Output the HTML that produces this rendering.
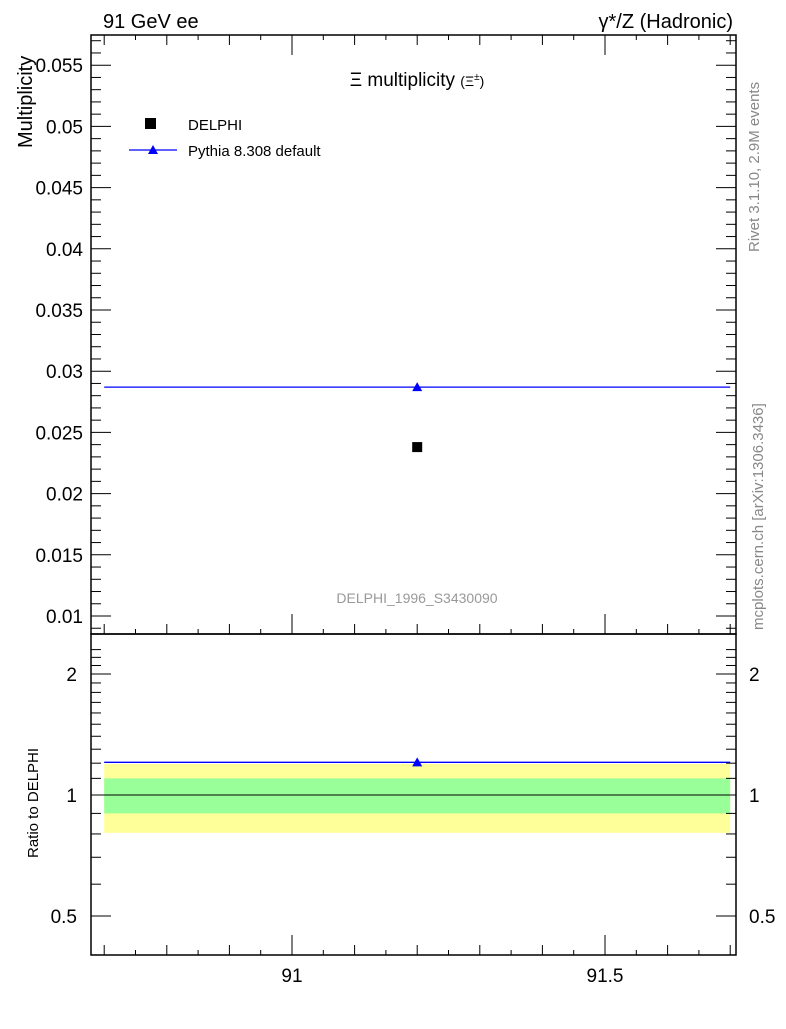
<!DOCTYPE html>
<html><head><meta charset="utf-8"><style>
body{margin:0;background:#fff;font-family:"Liberation Sans",sans-serif}
</style></head><body>
<svg id="c" width="786" height="1024" xmlns="http://www.w3.org/2000/svg" font-family="Liberation Sans, sans-serif">
<text x="103" y="28" font-size="20">91 GeV ee</text>
<text x="733" y="28" font-size="20" text-anchor="end">γ*/Z (Hadronic)</text>
<text x="417" y="86" font-size="19" text-anchor="middle">Ξ multiplicity <tspan font-size="14">(Ξ<tspan dy="-6" font-size="10">±</tspan><tspan dy="6">)</tspan></tspan></text>
<text transform="translate(32,148) rotate(-90)" font-size="20">Multiplicity</text>
<text transform="translate(38,858) rotate(-90)" font-size="15">Ratio to DELPHI</text>
<text transform="translate(759,252) rotate(-90)" font-size="15" fill="#888">Rivet 3.1.10,  2.9M events</text>
<text transform="translate(763,630) rotate(-90)" font-size="15" fill="#888">mcplots.cern.ch [arXiv:1306.3436]</text>
<text x="417" y="603" font-size="14" fill="#999" text-anchor="middle">DELPHI_1996_S3430090</text>
<g id="g"></g>
<rect x="145" y="118" width="11" height="11" fill="#000"/>
<text x="188" y="130" font-size="15">DELPHI</text>
<line x1="129" y1="150" x2="177" y2="150" stroke="#00f" stroke-width="1.3"/>
<polygon points="153,145 158,154 148,154" fill="#00f"/>
<text x="188" y="156" font-size="15">Pythia 8.308 default</text>
</svg>
<script>
const xBins=[[90.7,91.7]];
const xCenters=[91.2];
const dataVals=[0.0238];
const mcVals=[0.0287];
const dataErrInner=[0.1];
const dataErrOuter=[0.195];
const yTicks=[0.01,0.015,0.02,0.025,0.03,0.035,0.04,0.045,0.05,0.055];
const yTickLabels=["0.01","0.015","0.02","0.025","0.03","0.035","0.04","0.045","0.05","0.055"];
const xTicks=[91,91.5];
const xTickLabels=["91","91.5"];
const rTicks=[0.5,1,2];
const rTickLabels=["0.5","1","2"];
const L=91,R=736,T=35,M=634,B=955;
const X=v=>292+(v-91)*626;
const Y=v=>616-(v-0.01)/0.005*61.2;
const RY=v=>795-Math.log2(v)*121;
const g=document.getElementById('g');const NS='http://www.w3.org/2000/svg';
function el(t,a,n){const e=document.createElementNS(NS,t);for(const k in a)e.setAttribute(k,a[k]);


g.appendChild(e);return e;}
// ratio bands
xBins.forEach((b,i)=>{
 el('rect',{x:X(b[0]),y:RY(1+dataErrOuter[i]),width:X(b[1])-X(b[0]),height:RY(1-dataErrOuter[i])-RY(1+dataErrOuter[i]),fill:'#ffff99'},'ratio-band-outer');
 el('rect',{x:X(b[0]),y:RY(1+dataErrInner[i]),width:X(b[1])-X(b[0]),height:RY(1-dataErrInner[i])-RY(1+dataErrInner[i]),fill:'#99ff99'},'ratio-band-inner');
 el('line',{x1:X(b[0]),x2:X(b[1]),y1:RY(1),y2:RY(1),stroke:'#000','stroke-width':1},'ratio-unity-line');
 const r=mcVals[i]/dataVals[i];
 el('line',{x1:X(b[0]),x2:X(b[1]),y1:RY(r),y2:RY(r),stroke:'#00f','stroke-width':1.3},'ratio-pythia-line');
 const cx=X(xCenters[i]),cy=RY(r);
 el('polygon',{points:`${cx},${cy-5} ${cx+5},${cy+4} ${cx-5},${cy+4}`,fill:'#00f'},'ratio-pythia-point');
 // main
 el('line',{x1:X(b[0]),x2:X(b[1]),y1:Y(mcVals[i]),y2:Y(mcVals[i]),stroke:'#00f','stroke-width':1.3},'pythia-line');
 const my=Y(mcVals[i]);
 el('polygon',{points:`${cx},${my-5} ${cx+5},${my+4} ${cx-5},${my+4}`,fill:'#00f'},'pythia-point');
 el('rect',{x:cx-5,y:Y(dataVals[i])-5,width:10,height:10,fill:'#000'},'delphi-point');
});
// frames
el('rect',{x:L,y:T,width:R-L,height:M-T,fill:'none',stroke:'#000','stroke-width':1.5},'main-frame');
el('rect',{x:L,y:M,width:R-L,height:B-M,fill:'none',stroke:'#000','stroke-width':1.5},'ratio-frame');
// y ticks main
for(let v=0.009;v<=0.0575;v+=0.001){const y=Y(v);if(y<T||y>M)continue;const major=Math.abs(v*200-Math.round(v*200))<1e-6;const len=major?20:10;
 el('line',{x1:L,x2:L+len,y1:y,y2:y,stroke:'#000'},'y-tick');el('line',{x1:R,x2:R-len,y1:y,y2:y,stroke:'#000'},'y-tick');}
yTicks.forEach((v,i)=>{const t=el('text',{x:83,y:Y(v)+7,'font-size':19,'text-anchor':'end'},'y-tick-label');t.textContent=yTickLabels[i];});
// x ticks
for(let k=0;k<=21;k++){const v=90.65+k*0.05;const x=X(v);if(x<L||x>R)continue;const r=Math.round(v*100);
 const len=r%50===0?20:(r%10===0?10:5);
 [M,B].forEach(base=>{el('line',{x1:x,x2:x,y1:base,y2:base-len,stroke:'#000'},'x-tick');});
 el('line',{x1:x,x2:x,y1:T,y2:T+len,stroke:'#000'},'x-tick');}
xTicks.forEach((v,i)=>{const t=el('text',{x:X(v),y:982,'font-size':19,'text-anchor':'middle'},'x-tick-label');t.textContent=xTickLabels[i];});
// ratio ticks
[0.4,0.5,0.6,0.7,0.8,0.9,1,1.1,1.2,1.3,1.4,1.5,1.6,1.7,1.8,1.9,2,2.1,2.2,2.3].forEach(v=>{const y=RY(v);if(y<M||y>B)return;const len=[0.5,1,2].includes(v)?20:10;
 el('line',{x1:L,x2:L+len,y1:y,y2:y,stroke:'#000'},'ratio-tick');el('line',{x1:R,x2:R-len,y1:y,y2:y,stroke:'#000'},'ratio-tick');});
rTicks.forEach((v,i)=>{const t=el('text',{x:77,y:RY(v)+7,'font-size':19,'text-anchor':'end'},'ratio-tick-label');t.textContent=rTickLabels[i];
 const t2=el('text',{x:749,y:RY(v)+7,'font-size':19},'ratio-tick-label-right');t2.textContent=rTickLabels[i];});
</script>
</body></html>
